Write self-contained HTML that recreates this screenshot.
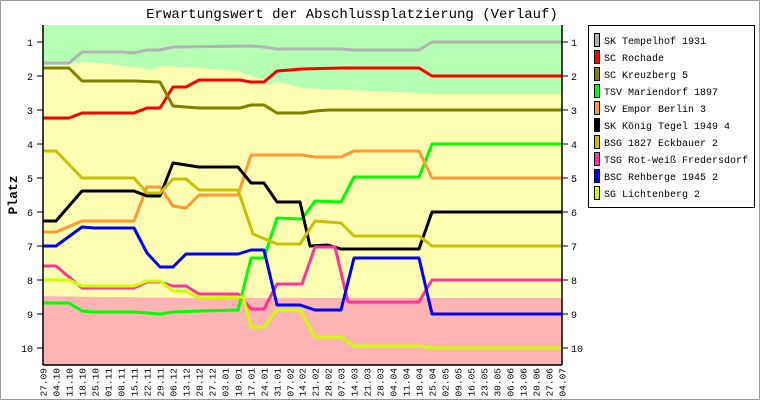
<!DOCTYPE html>
<html><head><meta charset="utf-8"><style>
html,body{margin:0;padding:0;background:#fff}
svg{display:block}
text{font-family:"Liberation Mono",monospace}
</style></head><body>
<svg width="760" height="400" viewBox="0 0 760 400" xmlns="http://www.w3.org/2000/svg">
<rect x="0.5" y="0.5" width="759" height="399" fill="#fff" stroke="#999"/>
<text x="352" y="18" font-size="14" text-anchor="middle" fill="#000">Erwartungswert der Abschlussplatzierung (Verlauf)</text>
<rect x="43" y="25" width="519" height="340" fill="#ffffb4"/>
<polygon fill="#b4ffb4" points="43,25 562,25 562,94 432,94 419,93 300,88 290,85 280,82 268,84 264,80 238,71 200,68 160,66 152,70 140,68 100,63 80,62 68,65 43,65"/>
<polygon fill="#ffb4b4" points="43,296 100,297 200,298 300,298 562,298 562,365 43,365"/>
<g fill="none" stroke-width="3" stroke-linejoin="round">
<polyline stroke="#b4b4b4" points="43,63 69,63 82,52 121,52 134,53 147,50 160,50 173,47 251,46 264,47 277,49 341,49 354,50 419,50 432,42 562,42"/>
<polyline stroke="#ff0000" points="43,118 69,118 82,113 134,113 147,108 160,108 173,87 186,87 199,80 240,80 251,82 264,82 277,71 302,69 341,68 419,68 432,76 562,76"/>
<polyline stroke="#808000" points="43,68 69,68 82,81 134,81 160,82 173,106 199,108 240,108 251,105 264,105 277,113 302,113 315,111 328,110 562,110"/>
<polyline stroke="#00ff00" points="43,303 69,303 82,311 95,312 134,312 160,314 173,312 199,311 238,310 251,258 264,258 277,218 302,219 315,201 341,202 354,177 419,177 432,144 562,144"/>
<polyline stroke="#ff9933" points="43,232 56,232 82,221 134,221 147,187 160,187 173,206 186,208 199,195 238,195 251,155 302,155 315,157 341,157 354,151 419,151 432,178 562,178"/>
<polyline stroke="#000000" points="43,221 56,221 82,191 134,191 147,196 160,196 173,163 186,165 199,167 238,167 251,183 264,183 277,202 300,202 310,246 328,245 341,249 419,249 432,212 562,212"/>
<polyline stroke="#c8c000" points="43,151 56,151 82,178 134,178 147,193 160,193 173,179 186,179 199,190 238,190 253,234 277,244 300,244 315,221 341,223 354,236 419,236 432,246 562,246"/>
<polyline stroke="#ff3399" points="43,266 56,266 82,288 134,288 147,282 160,282 173,286 186,286 199,294 238,294 251,309 264,309 277,284 302,284 315,247 335,247 348,302 419,302 432,280 562,280"/>
<polyline stroke="#0000ff" points="43,246 56,246 82,227 95,228 134,228 147,253 160,267 173,267 186,254 238,254 251,250 264,250 277,305 300,305 315,310 341,310 354,258 419,258 432,314 562,314"/>
<polyline stroke="#ccff00" points="43,280 69,280 82,286 134,286 147,281 160,281 173,291 186,291 199,298 243,297 251,327 264,327 277,310 300,310 315,337 341,337 354,346 419,346 432,348 562,348"/>
</g>
<g stroke="#000" stroke-width="1.5" fill="none">
<line x1="43" y1="25" x2="43" y2="365"/>
<line x1="562" y1="25" x2="562" y2="365"/>
<line x1="43" y1="365" x2="562" y2="365"/>
</g>
<g stroke="#000" stroke-width="1">
<line x1="37" y1="42" x2="43" y2="42"/><line x1="37" y1="76" x2="43" y2="76"/><line x1="37" y1="110" x2="43" y2="110"/><line x1="37" y1="144" x2="43" y2="144"/><line x1="37" y1="178" x2="43" y2="178"/><line x1="37" y1="212" x2="43" y2="212"/><line x1="37" y1="246" x2="43" y2="246"/><line x1="37" y1="280" x2="43" y2="280"/><line x1="37" y1="314" x2="43" y2="314"/><line x1="37" y1="348" x2="43" y2="348"/>
<line x1="562" y1="42" x2="568" y2="42"/><line x1="562" y1="76" x2="568" y2="76"/><line x1="562" y1="110" x2="568" y2="110"/><line x1="562" y1="144" x2="568" y2="144"/><line x1="562" y1="178" x2="568" y2="178"/><line x1="562" y1="212" x2="568" y2="212"/><line x1="562" y1="246" x2="568" y2="246"/><line x1="562" y1="280" x2="568" y2="280"/><line x1="562" y1="314" x2="568" y2="314"/><line x1="562" y1="348" x2="568" y2="348"/>
</g>
<g font-size="10" fill="#000" text-anchor="end">
<text x="33" y="46">1</text><text x="33" y="80">2</text><text x="33" y="114">3</text><text x="33" y="148">4</text><text x="33" y="182">5</text><text x="33" y="216">6</text><text x="33" y="250">7</text><text x="33" y="284">8</text><text x="33" y="318">9</text><text x="33" y="352">10</text>
</g>
<g font-size="10" fill="#000">
<text x="571" y="46">1</text><text x="571" y="80">2</text><text x="571" y="114">3</text><text x="571" y="148">4</text><text x="571" y="182">5</text><text x="571" y="216">6</text><text x="571" y="250">7</text><text x="571" y="284">8</text><text x="571" y="318">9</text><text x="571" y="352">10</text>
</g>
<text transform="translate(17,195) rotate(-90)" font-size="13" font-weight="bold" text-anchor="middle">Platz</text>
<g font-size="9.5" fill="#000" text-anchor="end">
<text transform="translate(46.5,368) rotate(-90)">27.09</text>
<text transform="translate(59.5,368) rotate(-90)">04.10</text>
<text transform="translate(72.5,368) rotate(-90)">11.10</text>
<text transform="translate(85.5,368) rotate(-90)">18.10</text>
<text transform="translate(98.5,368) rotate(-90)">25.10</text>
<text transform="translate(111.5,368) rotate(-90)">01.11</text>
<text transform="translate(124.5,368) rotate(-90)">08.11</text>
<text transform="translate(137.5,368) rotate(-90)">15.11</text>
<text transform="translate(150.5,368) rotate(-90)">22.11</text>
<text transform="translate(163.5,368) rotate(-90)">29.11</text>
<text transform="translate(176.5,368) rotate(-90)">06.12</text>
<text transform="translate(189.5,368) rotate(-90)">13.12</text>
<text transform="translate(202.5,368) rotate(-90)">20.12</text>
<text transform="translate(215.5,368) rotate(-90)">27.12</text>
<text transform="translate(228.5,368) rotate(-90)">03.01</text>
<text transform="translate(241.5,368) rotate(-90)">10.01</text>
<text transform="translate(254.5,368) rotate(-90)">17.01</text>
<text transform="translate(267.5,368) rotate(-90)">24.01</text>
<text transform="translate(280.5,368) rotate(-90)">31.01</text>
<text transform="translate(293.5,368) rotate(-90)">07.02</text>
<text transform="translate(305.5,368) rotate(-90)">14.02</text>
<text transform="translate(318.5,368) rotate(-90)">21.02</text>
<text transform="translate(331.5,368) rotate(-90)">28.02</text>
<text transform="translate(344.5,368) rotate(-90)">07.03</text>
<text transform="translate(357.5,368) rotate(-90)">14.03</text>
<text transform="translate(370.5,368) rotate(-90)">21.03</text>
<text transform="translate(383.5,368) rotate(-90)">28.03</text>
<text transform="translate(396.5,368) rotate(-90)">04.04</text>
<text transform="translate(409.5,368) rotate(-90)">11.04</text>
<text transform="translate(422.5,368) rotate(-90)">18.04</text>
<text transform="translate(435.5,368) rotate(-90)">25.04</text>
<text transform="translate(448.5,368) rotate(-90)">02.05</text>
<text transform="translate(461.5,368) rotate(-90)">09.05</text>
<text transform="translate(474.5,368) rotate(-90)">16.05</text>
<text transform="translate(487.5,368) rotate(-90)">23.05</text>
<text transform="translate(500.5,368) rotate(-90)">30.05</text>
<text transform="translate(513.5,368) rotate(-90)">06.06</text>
<text transform="translate(526.5,368) rotate(-90)">13.06</text>
<text transform="translate(539.5,368) rotate(-90)">20.06</text>
<text transform="translate(552.5,368) rotate(-90)">27.06</text>
<text transform="translate(565.5,368) rotate(-90)">04.07</text>
</g>
<rect x="588.5" y="25.5" width="166" height="182" fill="#fff" stroke="#000"/>
<g stroke="#000" stroke-width="1">
<rect x="594.5" y="33.5" width="5" height="13" fill="#b4b4b4"/>
<rect x="594.5" y="50.5" width="5" height="13" fill="#ff0000"/>
<rect x="594.5" y="67.5" width="5" height="13" fill="#808000"/>
<rect x="594.5" y="84.5" width="5" height="13" fill="#00ff00"/>
<rect x="594.5" y="101.5" width="5" height="13" fill="#ff9933"/>
<rect x="594.5" y="118.5" width="5" height="13" fill="#000000"/>
<rect x="594.5" y="135.5" width="5" height="13" fill="#c8c000"/>
<rect x="594.5" y="152.5" width="5" height="13" fill="#ff3399"/>
<rect x="594.5" y="169.5" width="5" height="13" fill="#0000ff"/>
<rect x="594.5" y="186.5" width="5" height="13" fill="#ccff00"/>
</g>
<g font-size="10" fill="#000">
<text x="604" y="44">SK Tempelhof 1931</text>
<text x="604" y="61">SC Rochade</text>
<text x="604" y="78">SC Kreuzberg 5</text>
<text x="604" y="95">TSV Mariendorf 1897</text>
<text x="604" y="112">SV Empor Berlin 3</text>
<text x="604" y="129">SK König Tegel 1949 4</text>
<text x="604" y="146">BSG 1827 Eckbauer 2</text>
<text x="604" y="163">TSG Rot-Weiß Fredersdorf</text>
<text x="604" y="180">BSC Rehberge 1945 2</text>
<text x="604" y="197">SG Lichtenberg 2</text>
</g>
</svg>
</body></html>
